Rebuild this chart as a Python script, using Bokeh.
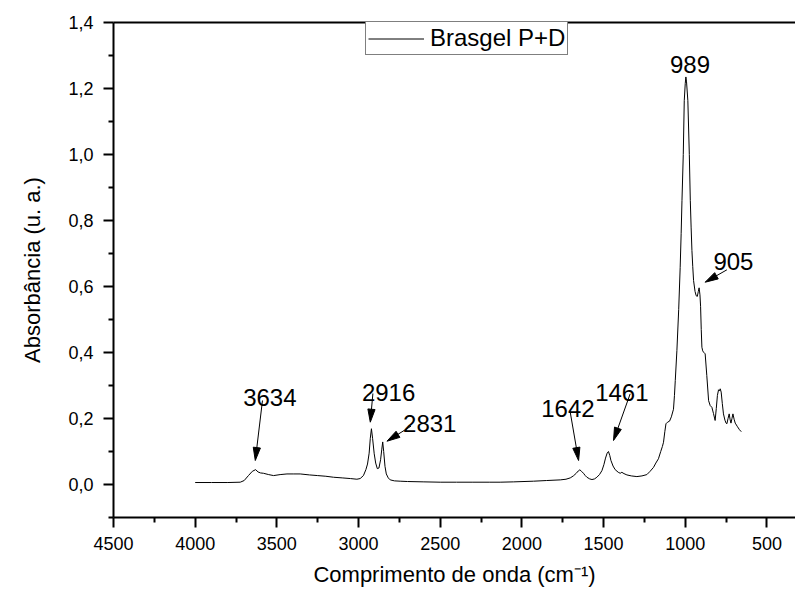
import math
from bokeh.plotting import figure
from bokeh.models import (Range1d, FixedTicker, LinearAxis, Legend, LegendItem)
from bokeh.embed import file_html
from bokeh.resources import INLINE
from bokeh.core.properties import value

# ---------------- data ----------------
wavenumber = [4000, 3900, 3800, 3724, 3700, 3674, 3650, 3630, 3615, 3600, 3582, 3550,
              3520, 3480, 3438, 3400, 3357, 3300, 3250, 3200, 3153, 3100, 3050, 3010,
              2990, 2970, 2955, 2945, 2935, 2928, 2921, 2914, 2904, 2895, 2885, 2875,
              2865, 2858, 2852, 2846, 2838, 2830, 2818, 2806, 2780, 2745, 2700, 2600,
              2500, 2400, 2300, 2200, 2133, 2050, 1929, 1850, 1765, 1730, 1704, 1685,
              1667, 1655, 1645, 1635, 1623, 1612, 1602, 1585, 1571, 1555, 1541, 1525,
              1510, 1498, 1488, 1478, 1470, 1462, 1455, 1442, 1429, 1410, 1398, 1388,
              1375, 1357, 1330, 1296, 1265, 1235, 1215, 1194, 1180, 1164, 1150, 1140,
              1133, 1125, 1118, 1108, 1096, 1085, 1072, 1066, 1061, 1051, 1040, 1031,
              1025, 1020, 1012, 1006, 1000, 996, 992, 984, 975, 969, 964, 959, 954, 949,
              940, 933, 926, 920, 915, 910, 906, 902, 898, 893, 888, 878, 868, 857, 847,
              837, 827, 817, 810, 803, 796, 790, 786, 780, 773, 766, 757, 750, 745, 738,
              731, 725, 720, 714, 708, 701, 694, 680, 668, 657]
absorbance = [0.006, 0.006, 0.006, 0.007, 0.012, 0.027, 0.040, 0.045, 0.038, 0.035, 0.034, 0.030,
              0.027, 0.030, 0.032, 0.032, 0.032, 0.029, 0.027, 0.025, 0.022, 0.020, 0.018, 0.016,
              0.018, 0.027, 0.045, 0.062, 0.095, 0.140, 0.169, 0.140, 0.093, 0.065, 0.048, 0.050,
              0.075, 0.105, 0.129, 0.100, 0.055, 0.032, 0.020, 0.014, 0.011, 0.010, 0.009, 0.008,
              0.007, 0.007, 0.007, 0.007, 0.007, 0.008, 0.010, 0.012, 0.014, 0.016, 0.020, 0.026,
              0.034, 0.041, 0.0445, 0.040, 0.034, 0.027, 0.022, 0.017, 0.015, 0.017, 0.022, 0.030,
              0.042, 0.060, 0.080, 0.095, 0.100, 0.088, 0.073, 0.056, 0.045, 0.037, 0.034, 0.037,
              0.033, 0.029, 0.026, 0.024, 0.026, 0.030, 0.040, 0.052, 0.065, 0.078, 0.100, 0.115,
              0.128, 0.160, 0.184, 0.189, 0.192, 0.205, 0.228, 0.270, 0.315, 0.406, 0.530, 0.658,
              0.760, 0.860, 1.000, 1.163, 1.215, 1.235, 1.220, 1.163, 1.000, 0.860, 0.780, 0.709, 0.660, 0.618,
              0.585, 0.572, 0.570, 0.585, 0.596, 0.575, 0.540, 0.470, 0.416, 0.405, 0.401, 0.396, 0.330, 0.254, 0.239,
              0.234, 0.215, 0.194, 0.230, 0.270, 0.287, 0.284, 0.290, 0.280, 0.245, 0.214, 0.195, 0.186, 0.184, 0.200,
              0.214, 0.196, 0.186, 0.200, 0.214, 0.198, 0.186, 0.175, 0.166, 0.160]

series_name = "Brasgel P+D"

x_major_ticks = [4500, 4000, 3500, 3000, 2500, 2000, 1500, 1000, 500]
x_minor_ticks = [4250, 3750, 3250, 2750, 2250, 1750, 1250, 750]
y_major_ticks = [0.0, 0.2, 0.4, 0.6, 0.8, 1.0, 1.2, 1.4]
y_tick_labels = ["0,0", "0,2", "0,4", "0,6", "0,8", "1,0", "1,2", "1,4"]
y_minor_ticks = [-0.1, 0.1, 0.3, 0.5, 0.7, 0.9, 1.1, 1.3]

x_title = "Comprimento de onda (cm\u207b\u00b9)"
y_title = "Absorbância (u. a.)"

# peak annotations: text, text anchor, arrow tail, arrow tip (data units)
peak_labels = ["3634", "2916", "2831", "1642", "1461", "989", "905"]
label_x = [3543, 2816, 2564, 1718, 1388, 971, 705]
label_y = [0.2645, 0.278, 0.184, 0.2294, 0.2797, 1.2727, 0.6758]
tail_x = [3588, 2912, 2679, 1704, 1337, None, 745]
tail_y = [0.2545, 0.2758, 0.1767, 0.219, 0.2748, None, 0.6506]
tip_x = [3632, 2928, 2826, 1653, 1439, None, 878]
tip_y = [0.0727, 0.1888, 0.1312, 0.0727, 0.1333, None, 0.6130]

# ---------------- figure ----------------
FONT = "Liberation Sans"
X_START, X_END = 4500, 325
Y_START, Y_END = -0.1, 1.4
W, H = 795, 595
BL, BR, BT, BB = 113, 0, 22, 78
FW, FH = W - BL - BR, H - BT - BB

p = figure(width=W, height=H, output_backend="svg", toolbar_location=None,
           x_range=Range1d(X_START, X_END), y_range=Range1d(Y_START, Y_END),
           min_border_left=BL, min_border_right=BR, min_border_top=BT,
           min_border_bottom=BB, x_axis_label=x_title, y_axis_label=y_title)
p.outline_line_color = None
p.grid.visible = False
p.background_fill_color = "white"
p.border_fill_color = "white"

for ax in (p.xaxis[0], p.yaxis[0]):
    ax.axis_line_width = 2
    ax.major_tick_line_width = 2
    ax.minor_tick_line_width = 2
    ax.major_tick_in = 0
    ax.major_tick_out = 10
    ax.minor_tick_in = 0
    ax.minor_tick_out = 5
    ax.major_label_text_font = FONT
    ax.major_label_text_font_size = "18px"
    ax.major_label_text_color = "black"
    ax.axis_label_text_font = FONT
    ax.axis_label_text_font_size = "22px"
    ax.axis_label_text_font_style = "normal"
    ax.axis_label_text_color = "black"

p.xaxis[0].ticker = FixedTicker(ticks=x_major_ticks, minor_ticks=x_minor_ticks)
p.xaxis[0].major_label_standoff = 9
p.xaxis[0].axis_label_standoff = 9
p.yaxis[0].ticker = FixedTicker(ticks=y_major_ticks, minor_ticks=y_minor_ticks)
p.yaxis[0].major_label_overrides = {t: s for t, s in zip(y_major_ticks, y_tick_labels)}
p.yaxis[0].major_label_standoff = 10
p.yaxis[0].axis_label_standoff = 20

top = LinearAxis(ticker=FixedTicker(ticks=[]), axis_line_width=2,
                 major_tick_out=0, minor_tick_out=0, major_label_text_font_size="0px")
p.add_layout(top, "above")

r = p.line(wavenumber, absorbance, line_color="black", line_width=1)

legend = Legend(items=[LegendItem(label=series_name, renderers=[r])],
                location=(252, 462), border_line_color="black", border_line_width=1,
                padding=2, spacing=0, margin=0, glyph_width=56, glyph_height=25,
                label_standoff=6, label_text_font=FONT, label_text_font_size="24px",
                label_text_color="black", background_fill_alpha=1.0)
p.add_layout(legend)

# peak labels
p.text(x=label_x, y=label_y, text=peak_labels, text_align="center",
       text_baseline="alphabetic", text_font=value(FONT), text_font_size="24px",
       text_color="black")

# arrows with slender filled heads, built in screen space
sx = FW / (X_START - X_END)       # px per wavenumber unit (reversed axis)
sy = FH / (Y_END - Y_START)       # px per absorbance unit
HEAD_L, HEAD_W = 13.0, 3.6
seg_x0, seg_y0, seg_x1, seg_y1, heads_x, heads_y = [], [], [], [], [], []
for tx, ty, hx, hy in zip(tail_x, tail_y, tip_x, tip_y):
    if tx is None:
        continue
    ax_, ay_ = (X_START - tx) * sx, ty * sy
    bx_, by_ = (X_START - hx) * sx, hy * sy
    dx, dy = bx_ - ax_, by_ - ay_
    n = math.hypot(dx, dy)
    ux, uy = dx / n, dy / n
    cx, cy = bx_ - HEAD_L * ux, by_ - HEAD_L * uy
    px_, py_ = -uy, ux
    pts = [(bx_, by_), (cx + HEAD_W * px_, cy + HEAD_W * py_), (cx - HEAD_W * px_, cy - HEAD_W * py_)]
    heads_x.append([X_START - q[0] / sx for q in pts])
    heads_y.append([q[1] / sy for q in pts])
    seg_x0.append(tx); seg_y0.append(ty)
    seg_x1.append(X_START - (cx + 1 * ux) / sx); seg_y1.append((cy + 1 * uy) / sy)

p.segment(seg_x0, seg_y0, seg_x1, seg_y1, line_color="black", line_width=1)
p.patches(heads_x, heads_y, fill_color="black", line_color="black", line_width=1)

open("out.html", "w").write(file_html(p, INLINE))
